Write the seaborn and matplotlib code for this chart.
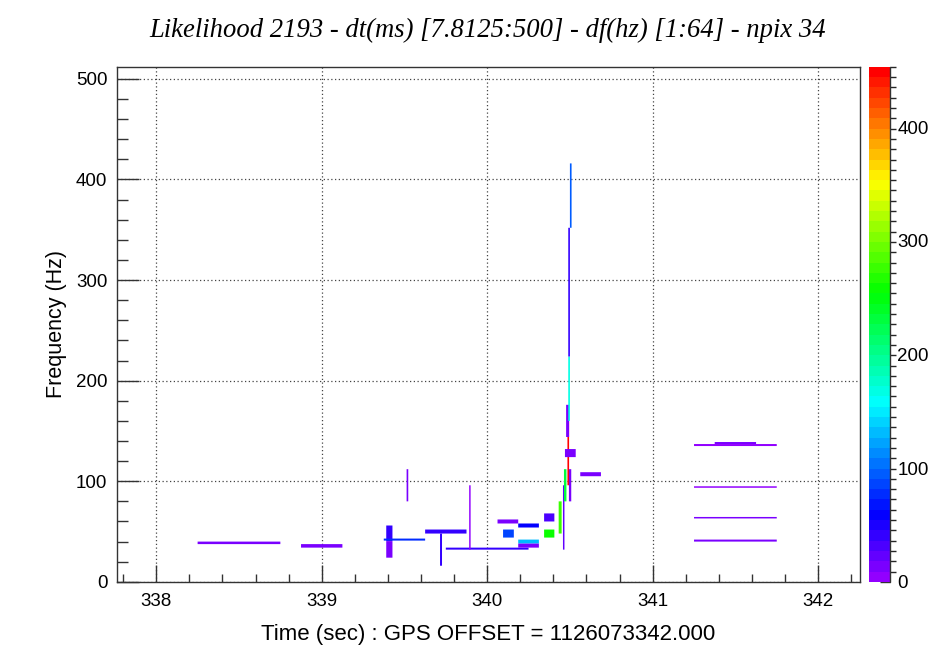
import colorsys
import numpy as np
import matplotlib
matplotlib.use("Agg")
import matplotlib.pyplot as plt
from matplotlib.colors import ListedColormap, BoundaryNorm
from matplotlib.cm import ScalarMappable
from matplotlib.ticker import MultipleLocator
import seaborn as sns

# ---------------- data (time-frequency pixels) ----------------
t_start = [338.25, 338.875, 339.39, 339.39, 339.375, 339.513, 339.625, 339.715, 339.75, 339.891,
           340.0625, 340.096, 340.1875, 340.1875, 340.1875, 340.344, 340.344, 340.432, 340.458,
           340.485, 340.464, 340.494, 340.477, 340.49, 340.49, 340.50, 340.47, 340.5625,
           341.25, 341.375, 341.25, 341.25, 341.25]
t_end = [338.75, 339.125, 339.4275, 339.4275, 339.625, 339.523, 339.875, 339.727, 340.25, 339.90,
         340.1875, 340.161, 340.3125, 340.3125, 340.3125, 340.406, 340.406, 340.45, 340.467,
         340.495, 340.479, 340.508, 340.495, 340.50, 340.50, 340.51, 340.535, 340.6875,
         341.75, 341.625, 341.75, 341.75, 341.75]
f_low = [37.5, 34, 40.5, 24, 41, 80, 48, 16, 32, 32,
         58, 44, 54, 38, 34, 60, 44, 48, 32,
         96, 80, 80, 144, 160, 224, 352, 124, 105,
         135, 137, 93.5, 63, 40]
f_high = [40, 37.5, 56, 40.5, 43, 112, 52, 48, 34, 96,
          62, 52, 58, 42, 38, 68, 52, 80, 96,
          160, 112, 112, 176, 224, 352, 416, 132, 109,
          137, 139, 95, 64.5, 42]
likelihood = [10, 10, 40, 10, 80, 10, 45, 40, 40, 8,
              10, 85, 55, 130, 15, 30, 255, 280, 20,
              450, 235, 10, 10, 165, 40, 95, 10, 10,
              5, 10, 5, 10, 10]

title = "Likelihood 2193 - dt(ms) [7.8125:500] - df(hz) [1:64] - npix 34"
xlabel = "Time (sec) : GPS OFFSET = 1126073342.000"
ylabel = "Frequency (Hz)"
zmax = 453

# ---------------- style ----------------
sns.set_theme(style="white")
plt.rcParams["font.family"] = ["Liberation Sans", "DejaVu Sans"]
plt.rcParams["axes.edgecolor"] = "#333333"
plt.rcParams["axes.linewidth"] = 1.0
plt.rcParams["text.color"] = "black"
plt.rcParams["axes.labelcolor"] = "black"
plt.rcParams["xtick.labelcolor"] = "black"
plt.rcParams["ytick.labelcolor"] = "black"

# ROOT "pretty palette" (50 colours, violet -> red, HLS with L=0.5, S=1)
cols = []
for i in range(50):
    hue = 280 - (i + 1) * (280 / 50)
    cols.append(colorsys.hls_to_rgb(max(hue, 0) / 360.0, 0.5, 1.0))
cmap = ListedColormap(cols)
norm = BoundaryNorm(np.linspace(0, zmax, 51), cmap.N)

fig = plt.figure(figsize=(9.53, 6.49), dpi=100)
ax = fig.add_axes([0.1228, 0.1035, 0.7796, 0.7935])
cax = fig.add_axes([0.9119, 0.1035, 0.0225, 0.7935])

df = {"t0": np.array(t_start), "t1": np.array(t_end), "f0": np.array(f_low),
      "f1": np.array(f_high), "L": np.array(likelihood)}
bars = ax.bar(x=df["t0"], height=df["f1"] - df["f0"], width=df["t1"] - df["t0"], bottom=df["f0"],
              align="edge", color=cmap(norm(df["L"])), edgecolor="none", linewidth=0, zorder=3)
for b in bars:
    b.set_snap(False)

ax.set_xlim(337.763, 342.253)
ax.set_ylim(0, 512)
ax.xaxis.set_major_locator(MultipleLocator(1))
ax.xaxis.set_minor_locator(MultipleLocator(0.2))
ax.yaxis.set_major_locator(MultipleLocator(100))
ax.yaxis.set_minor_locator(MultipleLocator(20))
ax.tick_params(axis="x", which="major", direction="in", length=12, width=1.0, color="#333333",
               labelsize=13.5, pad=8, bottom=True, top=False)
ax.tick_params(axis="x", which="minor", direction="in", length=6, width=1.0, color="#333333",
               bottom=True, top=False)
ax.tick_params(axis="y", which="major", direction="in", length=16, width=1.0, color="#333333",
               labelsize=13.5, pad=7, left=True, right=False)
ax.tick_params(axis="y", which="minor", direction="in", length=8, width=1.0, color="#333333",
               left=True, right=False)
ax.grid(True, which="major", linestyle=(0, (1, 2)), color="#444444", linewidth=0.9)
ax.set_axisbelow(True)

ax.set_xlabel(xlabel, fontsize=16, labelpad=10)
ax.set_ylabel(ylabel, fontsize=15.5, labelpad=6)
fig.suptitle(title, x=0.512, y=0.972, fontsize=19.2, fontstyle="italic",
             family=["Liberation Serif", "DejaVu Serif"])

sm = ScalarMappable(norm=norm, cmap=cmap)
cb = fig.colorbar(sm, cax=cax, ticks=[0, 100, 200, 300, 400], drawedges=False)
cb.outline.set_visible(False)
cax.set_ylim(0, zmax)
cax.tick_params(axis="y", direction="in", length=7, width=1.0, color="#333333",
                labelsize=13.5, pad=5, right=True)
cax.plot([1, 1], [0, 1], transform=cax.transAxes, color="#333333", lw=1.0, clip_on=False)

fig.savefig("out.png", dpi=100, facecolor="white")
